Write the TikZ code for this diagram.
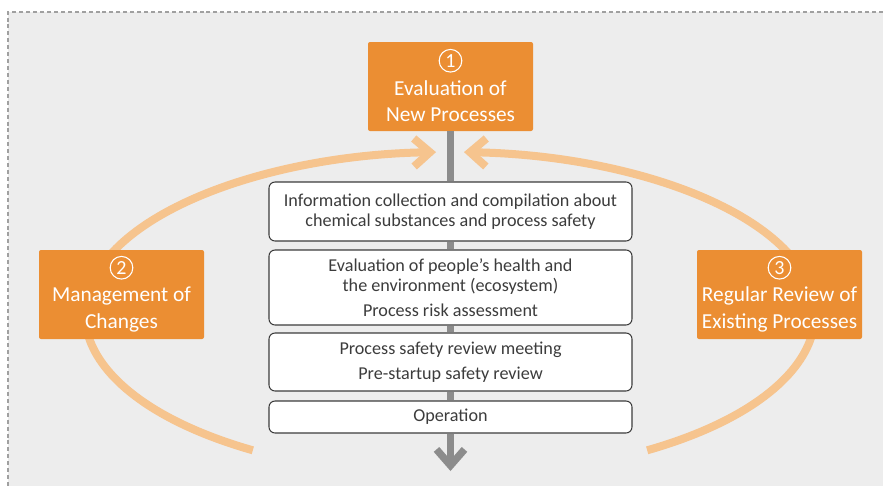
\documentclass[tikz,border=0pt]{standalone}
\usepackage{fontspec}
\setmainfont{Carlito}
\usetikzlibrary{arrows.meta}

\definecolor{procorange}{RGB}{235,142,51}
\definecolor{looporange}{RGB}{246,196,142}
\definecolor{flowgray}{RGB}{140,140,140}
\definecolor{panelgray}{RGB}{237,237,237}
\definecolor{framegray}{RGB}{160,160,160}
\definecolor{boxline}{RGB}{60,60,60}
\definecolor{boxtext}{RGB}{60,60,60}

\begin{document}
\begin{tikzpicture}[
    x=0.75pt, y=-0.75pt,
    head/.style={rectangle, rounded corners=1.5pt, fill=procorange, text=white,
      minimum width=123.75pt, minimum height=66.75pt, inner sep=0pt,
      align=center, font=\fontsize{16}{20}\selectfont},
    stepno/.style={circle, draw=white, line width=0.8pt, text=white,
      minimum size=17pt, inner sep=0pt, font=\fontsize{15}{15}\selectfont},
    task/.style={rectangle, rounded corners=4.5pt, draw=boxline, line width=0.8pt,
      fill=white, text=boxtext, minimum width=272.25pt, inner sep=0pt,
      align=center, font=\fontsize{13.6}{15.5}\selectfont},
    flow/.style={draw=flowgray, line width=5.5pt},
    loop/.style={draw=looporange, line width=6pt},
    chevron/.style={-{Straight Barb[sharp, length=12pt, width=21pt]}}
  ]
  % page and shaded panel
  \useasboundingbox (0,0) rectangle (883,486);
  \fill[panelgray] (8,12) rectangle (883,486);
  \draw[framegray, line width=0.9pt, dash pattern=on 3pt off 2.2pt]
    (883,12) -- (8,12) -- (8,486);

  % the cycle round the process flow
  \coordinate (ctr) at (450,314);
  \draw[loop, chevron] (ctr) ++(122.7:365 and 162)
    arc[start angle=122.7, end angle=267.8, x radius=365, y radius=162];
  \draw[loop, chevron] (ctr) ++(57.3:365 and 162)
    arc[start angle=57.3, end angle=-87.8, x radius=365, y radius=162];

  % the three triggers (first line left free for the number)
  \node[head] (newproc) at (450.5,86.5)
    {\rule{0pt}{13pt}\\Evaluation of\\New Processes};
  \node[head] (change) at (121.5,294.5)
    {\rule{0pt}{13pt}\\Management of\\Changes};
  \node[head] (review) at (779.5,294.5)
    {\rule{0pt}{13pt}\\Regular Review of\\Existing Processes};
  \node[stepno] (newproc-no) at ([yshift=-14.25pt]newproc.north) {1};
  \node[stepno] (change-no) at ([yshift=-13.5pt]change.north) {2};
  \node[stepno] (review-no) at ([yshift=-13.5pt]review.north) {3};

  % the steps of an evaluation
  \node[task, minimum height=44.25pt] (info) at (450.5,211.5)
    {Information collection and compilation about\\chemical substances and process safety};
  \node[task, minimum height=56.25pt] (assess) at (450.5,287.5)
    {Evaluation of people’s health and\\the environment (ecosystem)\\[3pt]Process risk assessment};
  \node[task, minimum height=43.5pt] (safety) at (450.5,362)
    {Process safety review meeting\\[3pt]Pre-startup safety review};
  \node[task, minimum height=24pt] (oper) at (450.5,417)
    {Operation};
  \coordinate (out) at (450.5,471);

  % flow through the steps
  \draw[flow] (newproc.south) -- (info.north);
  \draw[flow] (info.south) -- (assess.north);
  \draw[flow] (assess.south) -- (safety.north);
  \draw[flow] (safety.south) -- (oper.north);
  \draw[flow, chevron] (oper.south) -- (out);
\end{tikzpicture}
\end{document}
